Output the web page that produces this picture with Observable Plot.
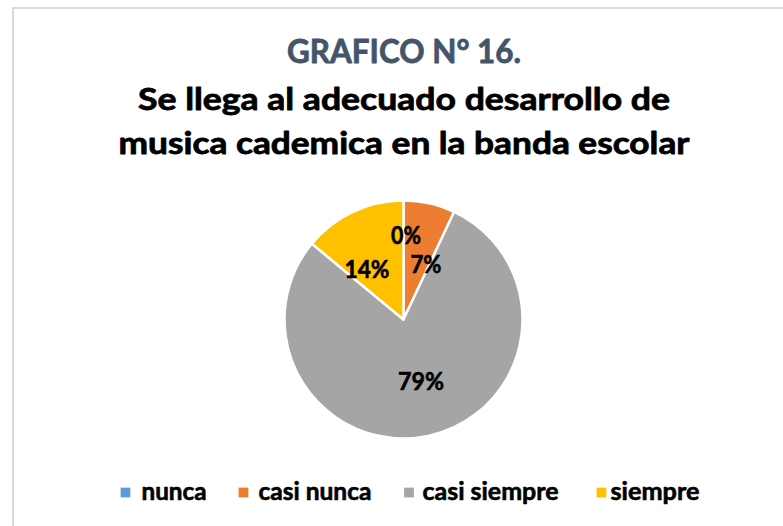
<!DOCTYPE html>
<html>
<head>
<meta charset="utf-8">
<script src="https://cdn.jsdelivr.net/npm/d3@7"></script>
<script src="https://cdn.jsdelivr.net/npm/@observablehq/plot@0.6"></script>
<style>
  html, body { margin: 0; padding: 0; background: #fff; overflow: hidden; width: 783px; height: 526px; }
  #frame { position: absolute; left: 12px; top: 7px; width: 800px; height: 600px; border: 2px solid #D9D9D9; box-sizing: border-box; }
  #chart { position: absolute; left: 0; top: 0; }
</style>
</head>
<body>
<div id="frame"></div>
<div id="chart"></div>
<script>
// ---- data ----
const titleMain = "GRAFICO N° 16.";
const titleLines = ["Se llega al adecuado desarrollo de", "musica cademica en la banda escolar"];
const categories = ["nunca", "casi nunca", "casi siempre", "siempre"];
const values = [0, 7, 79, 14];
const colors = ["#5B9BD5", "#ED7D31", "#A5A5A5", "#FFC000"];

// ---- layout ----
const W = 783, H = 526;
const cx = 403.5, cy = 319.5, R = 119;
const labelOffsets = [[2, -84], [22, -55], [17, 62], [-37, -50]];
const legendSquareX = [125, 243, 408.5, 601];
const legendTextX = [141, 258, 422, 610];
const legendY = 492;
const font = "Lato, 'Open Sans', sans-serif";

const slices = categories.map((c, i) => ({category: c, value: values[i], color: colors[i]}));
const pieGen = d3.pie().sort(null).value(d => d.value).startAngle(0).endAngle(2 * Math.PI);
const arcs = pieGen(slices);

const titleData = [
  {text: titleMain, y: 52.5, color: "#44546A", target: 234, size: 32},
  {text: titleLines[0], y: 99.5, color: "#000000", target: 532, size: 30},
  {text: titleLines[1], y: 143.5, color: "#000000", target: 571, size: 30}
];
const labelTargets = [30, 31, 46, 45];
const labelData = arcs.map((a, i) => ({
  text: `${a.data.value}%`, x: cx + labelOffsets[i][0], y: cy + labelOffsets[i][1], target: labelTargets[i]
}));
const legendTargets = [65, 113, 136, 89];
const legendData = slices.map((s, i) => ({
  category: s.category, color: s.color, sx: legendSquareX[i], tx: legendTextX[i], y: legendY, target: legendTargets[i]
}));

function pieMark(index, scales) {
  const X = scales.x, Y = scales.y;
  const px = X(cx), py = Y(cy), pr = X(cx + R) - X(cx);
  const arcGen = d3.arc().innerRadius(0).outerRadius(pr);
  const g = d3.create("svg:g").attr("transform", `translate(${px},${py})`);
  g.selectAll("path").data(arcs).join("path")
    .attr("d", arcGen)
    .attr("fill", d => d.data.color)
    .attr("stroke", "#fff")
    .attr("stroke-width", 2.5)
    .attr("stroke-linejoin", "round");
  return g.node();
}

const plot = Plot.plot({
  width: W,
  height: H,
  margin: 0,
  x: {domain: [0, W], range: [0, W], axis: null},
  y: {domain: [0, H], range: [0, H], axis: null},
  style: {background: "transparent", fontFamily: font},
  marks: [
    pieMark,
    Plot.text(titleData.slice(0, 1), {x: () => cx, y: "y", text: "text", fill: "color", stroke: "color", strokeWidth: 0.8, fontSize: 32, fontWeight: "bold", className: "fit"}),
    Plot.text(titleData.slice(1), {x: () => cx, y: "y", text: "text", fill: "color", stroke: "color", strokeWidth: 0.8, fontSize: 30, fontWeight: "bold", className: "fit"}),
    Plot.text(labelData, {x: "x", y: "y", text: "text", fill: "#000", stroke: "#000", strokeWidth: 0.6, fontSize: 24, fontWeight: "bold", className: "fit"}),
    Plot.dot(legendData, {x: "sx", y: "y", symbol: "square", r: 5.5, fill: "color", stroke: null}),
    Plot.text(legendData, {x: "tx", y: "y", text: "category", fill: "#000", stroke: "#000", strokeWidth: 0.6, fontSize: 24, fontWeight: "bold", textAnchor: "start", className: "fit"})
  ]
});
document.getElementById("chart").append(plot);

// compress text horizontally to the reference widths (narrow Calibri-like look)
const targets = new Map();
[...titleData, ...labelData].forEach(d => targets.set(d.text, d.target));
legendData.forEach(d => targets.set(d.category, d.target));
plot.querySelectorAll(".fit text").forEach(t => {
  const tw = targets.get(t.textContent);
  if (!tw) return;
  const len = t.getComputedTextLength();
  if (!(len > 0)) return;
  const sx = (tw / len).toFixed(4);
  const tr = t.getAttribute("transform");
  if (tr) {
    t.setAttribute("transform", `${tr} scale(${sx},1)`);
  } else {
    const x = +t.getAttribute("x") || 0;
    t.setAttribute("transform", `translate(${x},0) scale(${sx},1) translate(${-x},0)`);
  }
});
</script>
</body>
</html>
